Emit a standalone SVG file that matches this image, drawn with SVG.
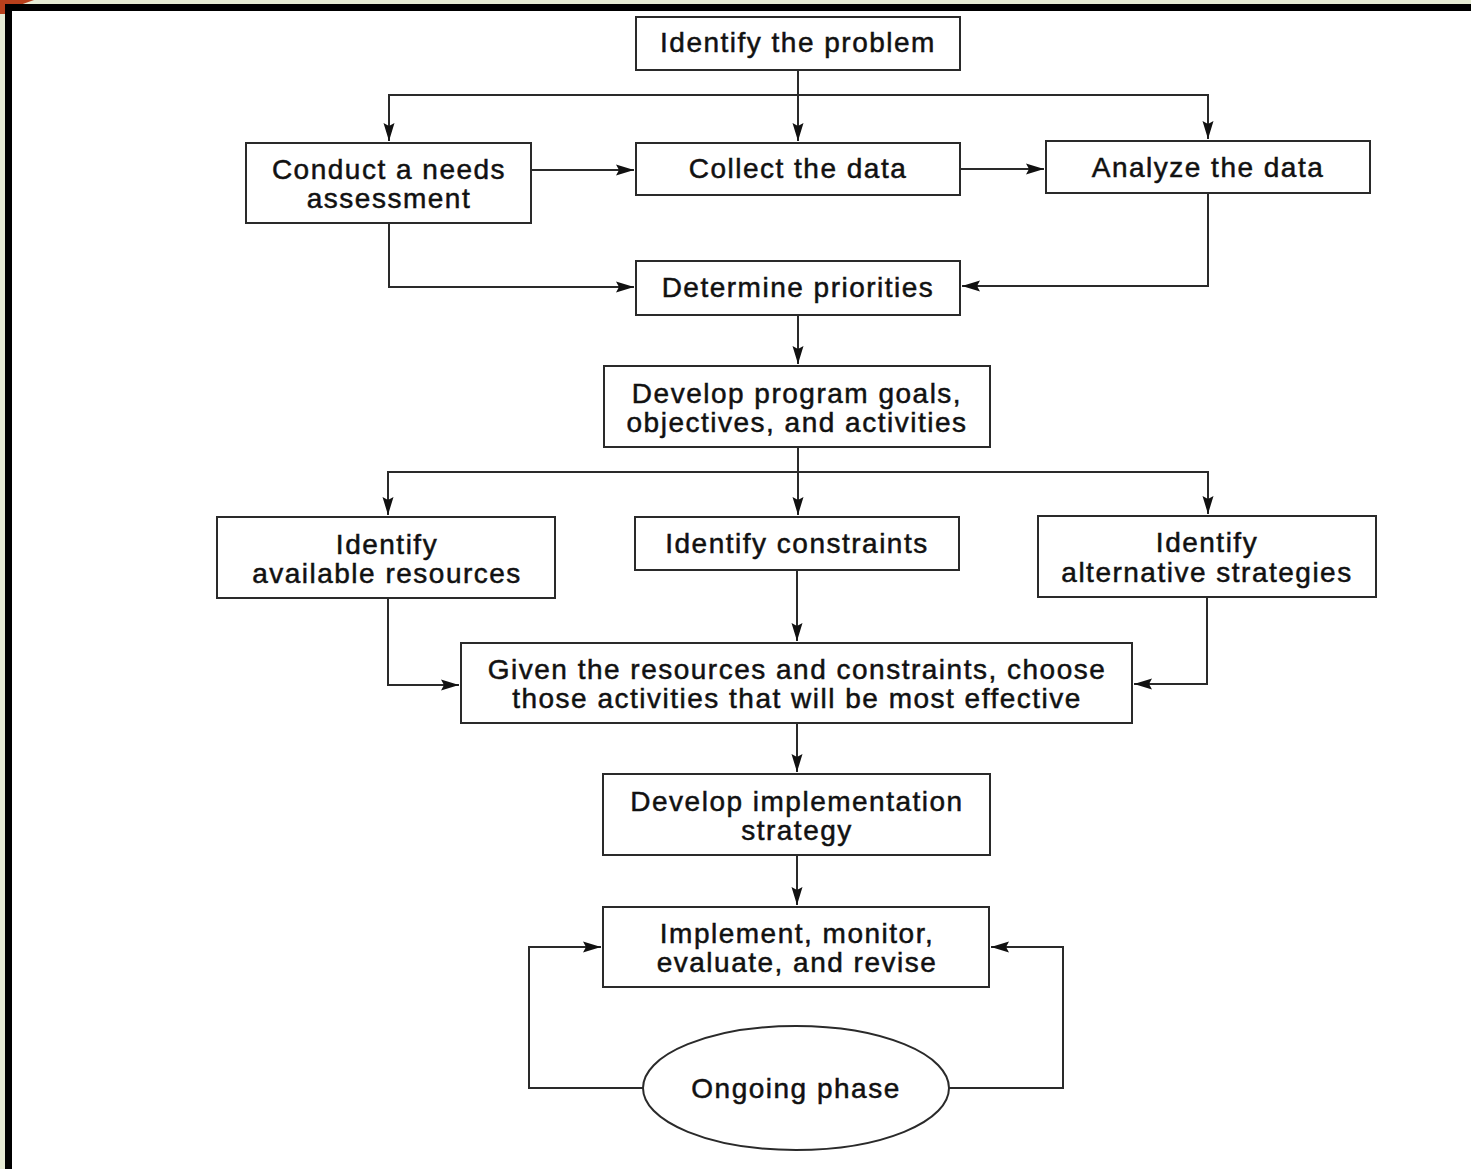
<svg xmlns="http://www.w3.org/2000/svg" width="1471" height="1169" viewBox="0 0 1471 1169">
<style>
.bg{fill:#e6ebd4}
.frame{fill:#ffffff;stroke:#000;stroke-width:7}
.box{fill:#fff;stroke:#2a2a2a;stroke-width:2}
.t{font-family:"Liberation Sans",Arial,Helvetica,sans-serif;font-size:28px;letter-spacing:1.5px;fill:#111;stroke:#111;stroke-width:0.5;text-anchor:middle}
.c{fill:none;stroke:#2a2a2a;stroke-width:2}
</style>
<defs>
<marker id="ah" viewBox="0 0 18 12" refX="18" refY="6" markerWidth="18" markerHeight="12" markerUnits="userSpaceOnUse" orient="auto">
<path d="M0,0.5 L18,6 L0,11.5 L3,6 Z" fill="#111"/>
</marker>
</defs>
<rect class="bg" x="0" y="0" width="1471" height="1169"/>
<path d="M0,0 L34,0 L20,5 L8,8 L5,14 L0,14 Z" fill="#b8401c"/>
<rect class="frame" x="8.5" y="7.5" width="1470" height="1170"/>

<g id="connectors">
<path class="c" d="M798,70 V141" marker-end="url(#ah)"/>
<path class="c" d="M389,141 V95 H1208 V139" marker-end="url(#ah)"/>
<path class="c" d="M389,95 V141" marker-end="url(#ah)"/>
<path class="c" d="M531,170 H634" marker-end="url(#ah)"/>
<path class="c" d="M960,169 H1044" marker-end="url(#ah)"/>
<path class="c" d="M389,223 V287 H634" marker-end="url(#ah)"/>
<path class="c" d="M1208,193 V286 H962" marker-end="url(#ah)"/>
<path class="c" d="M798,315 V364" marker-end="url(#ah)"/>
<path class="c" d="M798,447 V515" marker-end="url(#ah)"/>
<path class="c" d="M388,515 V472 H1208 V514" marker-end="url(#ah)"/>
<path class="c" d="M388,472 V515" marker-end="url(#ah)"/>
<path class="c" d="M388,598 V685 H459" marker-end="url(#ah)"/>
<path class="c" d="M797,570 V641" marker-end="url(#ah)"/>
<path class="c" d="M1207,597 V684 H1134" marker-end="url(#ah)"/>
<path class="c" d="M797,723 V772" marker-end="url(#ah)"/>
<path class="c" d="M797,855 V905" marker-end="url(#ah)"/>
<path class="c" d="M643,1088 H529 V947 H601" marker-end="url(#ah)"/>
<path class="c" d="M949,1088 H1063 V947 H991" marker-end="url(#ah)"/>
</g>

<g id="n1"><rect class="box" x="636" y="17" width="324" height="53"/><text class="t" x="798" y="52">Identify the problem</text></g>
<g id="n2"><rect class="box" x="246" y="143" width="285" height="80"/><text class="t" x="389" y="179">Conduct a needs</text><text class="t" x="389" y="208">assessment</text></g>
<g id="n3"><rect class="box" x="636" y="143" width="324" height="52"/><text class="t" x="798" y="178">Collect the data</text></g>
<g id="n4"><rect class="box" x="1046" y="141" width="324" height="52"/><text class="t" x="1208" y="177">Analyze the data</text></g>
<g id="n5"><rect class="box" x="636" y="261" width="324" height="54"/><text class="t" x="798" y="297">Determine priorities</text></g>
<g id="n6"><rect class="box" x="604" y="366" width="386" height="81"/><text class="t" x="797" y="403">Develop program goals,</text><text class="t" x="797" y="432">objectives, and activities</text></g>
<g id="n7"><rect class="box" x="217" y="517" width="338" height="81"/><text class="t" x="387" y="554">Identify</text><text class="t" x="387" y="583">available resources</text></g>
<g id="n8"><rect class="box" x="635" y="517" width="324" height="53"/><text class="t" x="797" y="553">Identify constraints</text></g>
<g id="n9"><rect class="box" x="1038" y="516" width="338" height="81"/><text class="t" x="1207" y="552">Identify</text><text class="t" x="1207" y="582">alternative strategies</text></g>
<g id="n10"><rect class="box" x="461" y="643" width="671" height="80"/><text class="t" x="797" y="679">Given the resources and constraints, choose</text><text class="t" x="797" y="708">those activities that will be most effective</text></g>
<g id="n11"><rect class="box" x="603" y="774" width="387" height="81"/><text class="t" x="797" y="811">Develop implementation</text><text class="t" x="797" y="840">strategy</text></g>
<g id="n12"><rect class="box" x="603" y="907" width="386" height="80"/><text class="t" x="797" y="943">Implement, monitor,</text><text class="t" x="797" y="972">evaluate, and revise</text></g>
<g id="n13"><ellipse class="box" cx="796" cy="1088" rx="153" ry="62"/><text class="t" x="796" y="1098">Ongoing phase</text></g>
</svg>
